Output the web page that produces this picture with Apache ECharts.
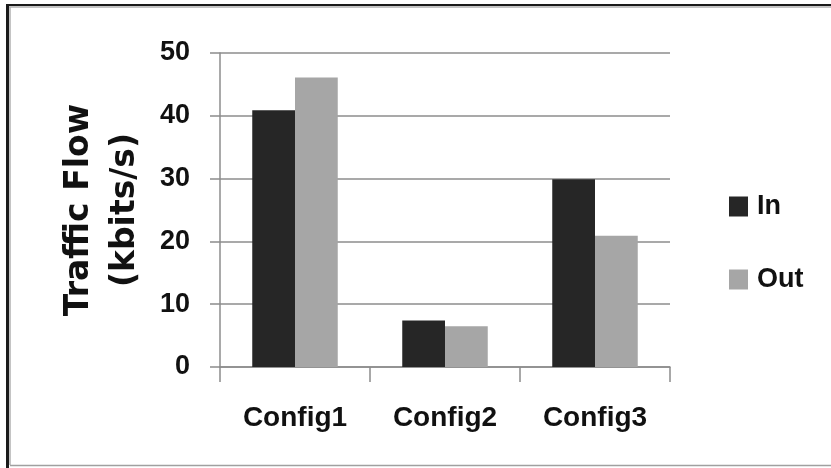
<!DOCTYPE html>
<html>
<head>
<meta charset="utf-8">
<script src="https://cdn.jsdelivr.net/npm/echarts@6/dist/echarts.min.js"></script>
<style>
  html, body { margin: 0; padding: 0; background: #fff; }
  #chart { width: 831px; height: 468px; }
</style>
</head>
<body>
<div id="chart"></div>
<script>
// data
const categories = ["Config1", "Config2", "Config3"];
const inValues = [40.9, 7.4, 29.9];
const outValues = [46.1, 6.5, 20.9];
const yTicks = [0, 10, 20, 30, 40, 50];

const chart = echarts.init(document.getElementById("chart"));
const labelFont = "'Liberation Sans', Arial, sans-serif";

// frame around the picture (dark top/left, light bottom edge)
function frameLine(x1, y1, x2, y2, color, width) {
  return {
    type: "line",
    silent: true,
    shape: { x1: x1, y1: y1, x2: x2, y2: y2 },
    style: { stroke: color, lineWidth: width },
  };
}

const option = {
  animation: false,
  graphic: [
    frameLine(7, 5, 831, 5, "#1a1a1a", 2),
    frameLine(9, 7, 831, 7, "#b0b0b0", 1.5),
    frameLine(7.5, 4, 7.5, 468, "#1a1a1a", 3),
    frameLine(10, 7, 10, 465, "#b0b0b0", 1.5),
    frameLine(10, 465.5, 831, 465.5, "#a0a0a0", 1.5),
  ],
  legend: {
    orient: "vertical",
    left: 724,
    top: 188,
    itemWidth: 19,
    itemHeight: 20,
    itemGap: 46,
    icon: "rect",
    textStyle: {
      fontFamily: labelFont,
      fontWeight: "bold",
      fontSize: 27,
      color: "#111",
      padding: [0, 0, 0, 4],
    },
    data: ["In", "Out"],
  },
  grid: {
    left: 220,
    right: 161,
    top: 53,
    bottom: 101,
  },
  xAxis: {
    type: "category",
    data: categories,
    axisLine: { lineStyle: { color: "#8c8c8c", width: 1.5 } },
    axisTick: { show: true, length: 15, lineStyle: { color: "#8c8c8c", width: 1.5 } },
    axisLabel: {
      fontFamily: labelFont,
      fontWeight: "bold",
      fontSize: 28,
      color: "#111",
      margin: 37,
    },
  },
  yAxis: {
    type: "value",
    min: 0,
    max: yTicks[yTicks.length - 1],
    interval: yTicks[1] - yTicks[0],
    name: "Traffic Flow\n(kbits/s)",
    nameLocation: "middle",
    nameGap: 72,
    nameRotate: 90,
    nameTextStyle: {
      fontFamily: "'DejaVu Sans', sans-serif",
      fontWeight: "bold",
      fontSize: 33,
      lineHeight: 46,
      color: "#111",
    },
    axisLine: { show: true, lineStyle: { color: "#8c8c8c", width: 1.5 } },
    axisTick: { show: true, length: 10, lineStyle: { color: "#8c8c8c", width: 1.5 } },
    splitLine: { lineStyle: { color: "#8c8c8c", width: 1.5 } },
    axisLabel: {
      fontFamily: labelFont,
      fontWeight: "bold",
      fontSize: 27,
      color: "#111",
      margin: 30,
    },
  },
  series: [
    {
      name: "In",
      type: "bar",
      data: inValues,
      barGap: "0%",
      barCategoryGap: "43%",
      itemStyle: { color: "#262626" },
    },
    {
      name: "Out",
      type: "bar",
      data: outValues,
      itemStyle: { color: "#a6a6a6" },
    },
  ],
};

chart.setOption(option);
</script>
</body>
</html>
